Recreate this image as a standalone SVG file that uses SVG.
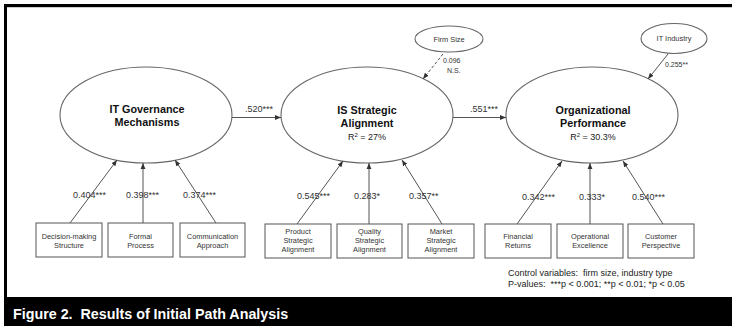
<svg xmlns="http://www.w3.org/2000/svg" width="732" height="326" viewBox="0 0 732 326">
<style>
text{font-family:"Liberation Sans",Arial,sans-serif;fill:#222;white-space:pre}
.lat{fill:#fff;stroke:#666;stroke-width:1.1}
.ttl{font-size:10.8px;font-weight:bold;text-anchor:middle;fill:#111}
.r2{font-size:9px;text-anchor:middle}
.box{fill:#fff;stroke:#555;stroke-width:1}
.bt{font-size:7.4px;text-anchor:middle;fill:#333}
.lbl{font-size:9px;fill:#333}
.sm{font-size:7px;fill:#333}
.con line{stroke:#555;stroke-width:1;marker-end:url(#ah)}
</style>
<defs>
<marker id="ah" viewBox="0 0 10 10" refX="10" refY="5" markerWidth="6" markerHeight="6" markerUnits="userSpaceOnUse" orient="auto">
<path d="M0,1 L10,5 L0,9 Z" fill="#333"/>
</marker>
</defs>
<rect x="0" y="0" width="732" height="326" fill="#fff"/>
<path d="M5.5,326 V5.5 H732" fill="none" stroke="#000" stroke-width="3"/>
<path d="M7,7.5 H732" stroke="#aaa" stroke-width="0.6"/>
<rect x="4" y="297" width="728" height="29" fill="#000"/>
<text x="13" y="319" xml:space="preserve" style="font-size:14.3px;font-weight:bold;fill:#fff">Figure 2.  Results of Initial Path Analysis</text>

<g id="it-governance">
<ellipse class="lat" cx="146" cy="115" rx="86" ry="48"/>
<text class="ttl" x="147" y="113">IT Governance</text>
<text class="ttl" x="147" y="126">Mechanisms</text>
</g>
<g id="is-alignment">
<ellipse class="lat" cx="367" cy="115" rx="86" ry="48"/>
<text class="ttl" x="367" y="114">IS Strategic</text>
<text class="ttl" x="367" y="127">Alignment</text>
<text class="r2" x="367" y="140">R<tspan dy="-3.5" font-size="6">2</tspan><tspan dy="3.5"> = 27%</tspan></text>
</g>
<g id="org-performance">
<ellipse class="lat" cx="592" cy="115" rx="86" ry="48"/>
<text class="ttl" x="593" y="114">Organizational</text>
<text class="ttl" x="593" y="127">Performance</text>
<text class="r2" x="593" y="140">R<tspan dy="-3.5" font-size="6">2</tspan><tspan dy="3.5"> = 30.3%</tspan></text>
</g>
<g id="firm-size">
<ellipse class="lat" cx="449" cy="39" rx="34" ry="13"/>
<text class="bt" x="449" y="41.5">Firm Size</text>
</g>
<g id="it-industry">
<ellipse class="lat" cx="674" cy="38.5" rx="33" ry="15"/>
<text class="bt" x="674" y="41">IT Industry</text>
</g>

<g id="decision-making">
<rect class="box" x="36" y="223" width="66" height="34"/>
<text class="bt" x="69" y="238.5">Decision-making</text>
<text class="bt" x="69" y="247.5">Structure</text>
</g>
<g id="formal-process">
<rect class="box" x="108" y="223" width="65" height="34"/>
<text class="bt" x="140.5" y="238.5">Formal</text>
<text class="bt" x="140.5" y="247.5">Process</text>
</g>
<g id="communication">
<rect class="box" x="180" y="223" width="65" height="34"/>
<text class="bt" x="212.5" y="238.5">Communication</text>
<text class="bt" x="212.5" y="247.5">Approach</text>
</g>
<g id="product">
<rect class="box" x="265" y="224" width="66" height="34"/>
<text class="bt" x="298" y="233.5">Product</text>
<text class="bt" x="298" y="242.5">Strategic</text>
<text class="bt" x="298" y="251.5">Alignment</text>
</g>
<g id="quality">
<rect class="box" x="337" y="224" width="65" height="34"/>
<text class="bt" x="369.5" y="233.5">Quality</text>
<text class="bt" x="369.5" y="242.5">Strategic</text>
<text class="bt" x="369.5" y="251.5">Alignment</text>
</g>
<g id="market">
<rect class="box" x="408" y="224" width="66" height="34"/>
<text class="bt" x="441" y="233.5">Market</text>
<text class="bt" x="441" y="242.5">Strategic</text>
<text class="bt" x="441" y="251.5">Alignment</text>
</g>
<g id="financial">
<rect class="box" x="485" y="224" width="66" height="34"/>
<text class="bt" x="518" y="238.5">Financial</text>
<text class="bt" x="518" y="247.5">Returns</text>
</g>
<g id="operational">
<rect class="box" x="557" y="224" width="66" height="34"/>
<text class="bt" x="590" y="238.5">Operational</text>
<text class="bt" x="590" y="247.5">Excellence</text>
</g>
<g id="customer">
<rect class="box" x="628" y="224" width="66" height="34"/>
<text class="bt" x="661" y="238.5">Customer</text>
<text class="bt" x="661" y="247.5">Perspective</text>
</g>

<g id="connectors" class="con">
<line x1="232" y1="117.5" x2="281" y2="117.5"/>
<line x1="453" y1="117.5" x2="506" y2="117.5"/>
<line x1="443" y1="54" x2="423" y2="79" stroke-dasharray="3,2"/>
<line x1="668" y1="54" x2="648" y2="79"/>
<line x1="70" y1="223" x2="117" y2="160"/>
<line x1="143" y1="223" x2="143" y2="163"/>
<line x1="216" y1="223" x2="175" y2="160"/>
<line x1="297" y1="224" x2="343" y2="161"/>
<line x1="369" y1="224" x2="369" y2="163"/>
<line x1="442" y1="224" x2="402" y2="160"/>
<line x1="517" y1="224" x2="562" y2="161"/>
<line x1="590" y1="224" x2="590" y2="163"/>
<line x1="663" y1="224" x2="623" y2="161"/>
</g>

<g id="labels">
<text class="lbl" x="245" y="112">.520***</text>
<text class="lbl" x="470" y="112">.551***</text>
<text class="sm" x="443" y="63">0.096</text>
<text class="sm" x="447" y="73">N.S.</text>
<text class="sm" x="665" y="67">0.255**</text>
<text class="lbl" x="73" y="198">0.404***</text>
<text class="lbl" x="126" y="198">0.398***</text>
<text class="lbl" x="183" y="198">0.374***</text>
<text class="lbl" x="297" y="199">0.545***</text>
<text class="lbl" x="354" y="199">0.283*</text>
<text class="lbl" x="409" y="199">0.357**</text>
<text class="lbl" x="522" y="200">0.342***</text>
<text class="lbl" x="579" y="200">0.333*</text>
<text class="lbl" x="632" y="200">0.540***</text>
<text class="lbl" x="508" y="276" xml:space="preserve" style="fill:#222">Control variables:  firm size, industry type</text>
<text class="lbl" x="508" y="287" xml:space="preserve" style="fill:#222">P-values:  ***p &lt; 0.001; **p &lt; 0.01; *p &lt; 0.05</text>
</g>
</svg>
